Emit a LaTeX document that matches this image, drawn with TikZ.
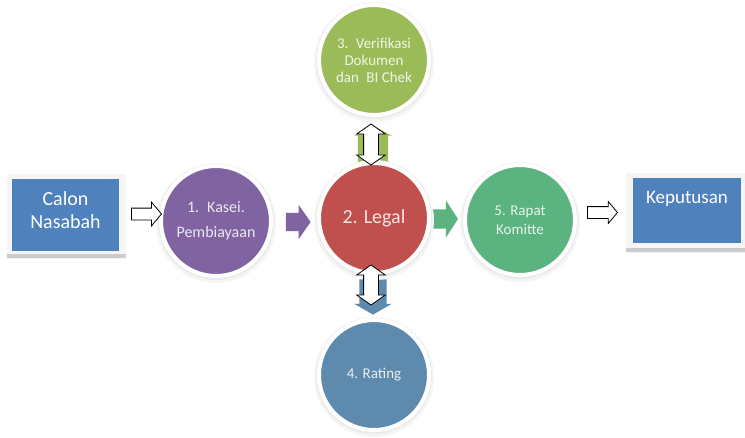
\documentclass[tikz,border=0pt]{standalone}
\usepackage{fontspec}
\setmainfont{Carlito}
\usetikzlibrary{shapes.arrows,calc}
\definecolor{boxblue}{HTML}{4F81BD}
\definecolor{cpurple}{HTML}{8064A2}
\definecolor{cred}{HTML}{C0504D}
\definecolor{colive}{HTML}{9BBB59}
\definecolor{cgreen}{HTML}{5BB37F}
\definecolor{csteel}{HTML}{5E8AAD}
\begin{document}
\begin{tikzpicture}[x=1pt,y=-1pt,
  stage/.style={circle, minimum size=110pt, inner sep=0pt, draw=white,
    line width=4pt, text=white, text opacity=0.85, align=center},
  bluebox/.style={rectangle, fill=boxblue, inner sep=0pt},
  boxtext/.style={text=white, align=center, inner sep=0pt},
  hollowarrow/.style={single arrow, draw=black, fill=white, line width=0.8pt,
    single arrow tip angle=100},
  hollowdouble/.style={double arrow, draw=black, fill=white, line width=0.8pt,
    inner sep=7pt, double arrow tip angle=110, shape border rotate=90,
    double arrow head extend=7pt},
  blockarrow/.style={single arrow}
]
\useasboundingbox (0,0) rectangle (745,437);
\fill[white] (0,0) rectangle (745,437);

% positions
\coordinate (p1) at (216,221);
\coordinate (p2) at (374,218);
\coordinate (p3) at (374,60);
\coordinate (p4) at (374,375);
\coordinate (p5) at (520,220);

% box frames
\fill[gray!8] (7,174) rectangle (126,259);
\fill[gray!40] (7,254) rectangle (126,258);
\fill[gray!8] (626,173) rectangle (746,253);
\fill[gray!40] (626,248) rectangle (746,252);

% boxes
\node[bluebox, minimum width=107pt, minimum height=72pt] (calon) at (65.5,215) {};
\node[boxtext, font=\fontsize{20}{23}\selectfont] (calontxt) at (65.5,210) {Calon\\Nasabah};
\node[bluebox, minimum width=108pt, minimum height=65pt] (kep) at (687,210.5) {};
\node[boxtext, anchor=base, font=\fontsize{19}{23}\selectfont] (keptxt) at (687,203) {Keputusan};

% coloured block arrows (behind circles)
\node[blockarrow, fill=cpurple, minimum height=24pt, inner sep=9pt,
  single arrow head extend=8pt, single arrow tip angle=110] (ap) at (295,222) {};
\node[blockarrow, fill=cgreen, minimum height=20pt, inner sep=9.5pt,
  single arrow head extend=9pt, single arrow tip angle=114] (ag) at (442,219) {};
\node[blockarrow, fill=colive, shape border rotate=90, minimum height=32pt,
  inner sep=15pt, single arrow head extend=3.5pt, single arrow tip angle=123] (au) at (373,149) {};
\node[blockarrow, fill=csteel, shape border rotate=270, minimum height=30pt,
  inner sep=13.5pt, single arrow head extend=5pt, single arrow tip angle=120] (ad) at (373,293) {};

% circle halos
\foreach \p in {p1,p2,p3,p4,p5}{
  \fill[gray!8] ($(\p)+(0,2)$) circle (60pt);
  \fill[gray!16] ($(\p)+(0,1)$) circle (58pt);
}

% stages
\node[stage, fill=cpurple, font=\fontsize{16}{25}\selectfont] (c1) at (p1) {1.\enspace Kasei.\\Pembiayaan};
\node[stage, fill=cred, font=\fontsize{20}{23}\selectfont] (c2) at (p2) {2. Legal};
\node[stage, fill=colive, font=\fontsize{15}{17}\selectfont] (c3) at (p3) {3.\enspace Verifikasi\\Dokumen\\dan\enspace BI Chek};
\node[stage, fill=csteel, font=\fontsize{15}{17}\selectfont] (c4) at (p4) {4. Rating};
\node[stage, fill=cgreen, font=\fontsize{15}{19}\selectfont] (c5) at (p5) {5. Rapat\\Komitte};

% hollow arrows
\node[hollowarrow, minimum height=30pt, inner sep=5.5pt, single arrow head extend=6pt] (h1) at (144,214) {};
\node[hollowarrow, minimum height=30pt, inner sep=5.5pt, single arrow head extend=5pt] (h2) at (600,212.5) {};
\node[hollowdouble, minimum height=41pt] (d1) at (371,144.5) {};
\node[hollowdouble, minimum height=40pt] (d2) at (371,285) {};
\end{tikzpicture}
\end{document}
